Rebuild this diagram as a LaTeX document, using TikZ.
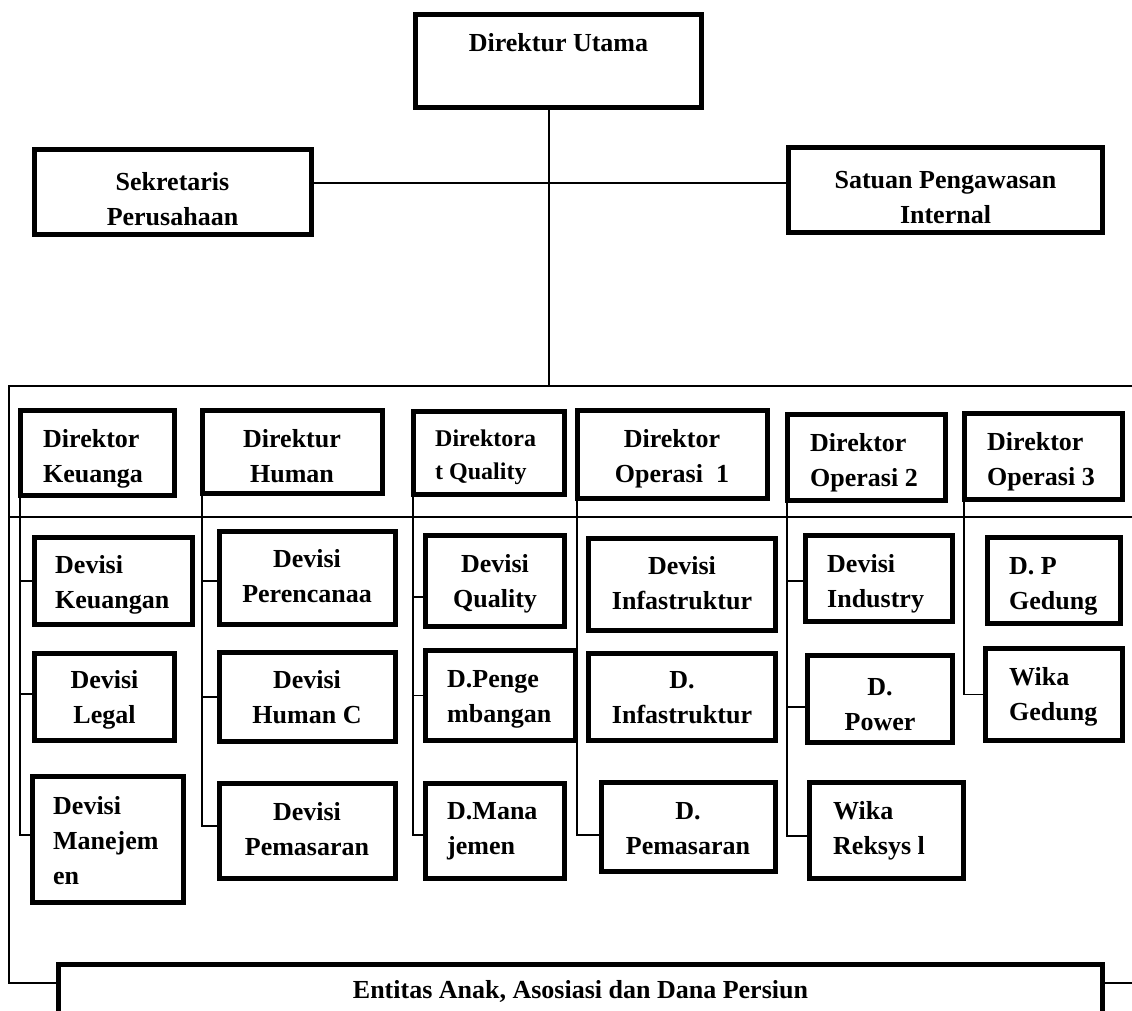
\documentclass[tikz,border=0pt]{standalone}
\usepackage{fontspec}
\setmainfont{Liberation Serif}
\usetikzlibrary{backgrounds}
% stacked lines of a label, first baseline as reference
\newcommand{\txtl}[1]{\begin{tabular}[t]{@{}l@{}}#1\end{tabular}}
\newcommand{\txtc}[1]{\begin{tabular}[t]{@{}c@{}}#1\end{tabular}}
% framed unit given by its outer corners (x1,y1) -- (x2,y2), y pointing down
\newcommand{\orgbox}[5]{%
  \node[box, minimum width={#4-#2-5}, minimum height={#5-#3-5}] (#1) at ({(#2+#4)/2},{(#3+#5)/2}) {};}
\begin{document}
\begin{tikzpicture}[x=1pt,y=-1pt,
  box/.style={draw=black, line width=5pt, fill=white, inner sep=0pt},
  link/.style={draw=black, line width=1.4pt},
  lbl/.style={inner sep=0pt, font=\bfseries\fontsize{26}{35}\selectfont},
  lblL/.style={lbl, anchor=base west},
  lblC/.style={lbl, anchor=base},
]
\useasboundingbox (0,0) rectangle (1132,1010);
\clip (0,0) rectangle (1132,1010);

% ---- top management
\orgbox{dutama}{413}{12}{704}{110}
\orgbox{sekr}{32}{147}{314}{237}
\orgbox{spi}{786}{145}{1105}{235}

% ---- directors
\orgbox{dkeu}{18}{408}{177}{498}
\orgbox{dhum}{200}{408}{385}{496}
\orgbox{dqual}{411}{409}{567}{497}
\orgbox{dops1}{575}{408}{770}{501}
\orgbox{dops2}{785}{412}{948}{503}
\orgbox{dops3}{962}{411}{1125}{502}

% ---- divisions
\orgbox{dvkeu}{32}{535}{195}{627}
\orgbox{dvleg}{32}{651}{177}{743}
\orgbox{dvman}{30}{774}{186}{905}
\orgbox{dvren}{217}{529}{398}{627}
\orgbox{dvhc}{217}{650}{398}{744}
\orgbox{dvpem}{217}{781}{398}{881}
\orgbox{dvqual}{423}{533}{567}{629}
\orgbox{dpeng}{423}{648}{578}{743}
\orgbox{dmana}{423}{781}{567}{881}
\orgbox{dvinf}{586}{536}{778}{633}
\orgbox{dinf}{586}{651}{778}{743}
\orgbox{dpem}{599}{780}{778}{874}
\orgbox{dvind}{803}{533}{955}{624}
\orgbox{dpow}{805}{653}{955}{745}
\orgbox{dreks}{807}{780}{966}{881}
\orgbox{dpged}{985}{535}{1123}{626}
\orgbox{dwged}{983}{646}{1125}{743}

% ---- subsidiaries
\orgbox{ent}{56}{962}{1105}{1050}

% ---- labels
\node[lblC] (t-dutama) at (558.5,51) {Direktur Utama};
\node[lblC] (t-sekr) at (172.5,190) {\txtc{Sekretaris\\Perusahaan}};
\node[lblC] (t-spi) at (945.5,188) {\txtc{Satuan Pengawasan\\Internal}};

\node[lblL] (t-dkeu) at (43,447) {\txtl{Direktor\\Keuanga}};
\node[lblC] (t-dhum) at (292,447) {\txtc{Direktur\\Human}};
\node[lblL, font=\bfseries\fontsize{24}{33}\selectfont] (t-dqual) at (435,446) {\txtl{Direktora\\t Quality}};
\node[lblC] (t-dops1) at (672,447) {\txtc{Direktor\\Operasi\ \ 1}};
\node[lblL] (t-dops2) at (810,451) {\txtl{Direktor\\Operasi 2}};
\node[lblL] (t-dops3) at (987,450) {\txtl{Direktor\\Operasi 3}};

\node[lblL] (t-dvkeu) at (55,573) {\txtl{Devisi\\Keuangan}};
\node[lblC] (t-dvleg) at (104.5,688) {\txtc{Devisi\\Legal}};
\node[lblL] (t-dvman) at (53,814) {\txtl{Devisi\\Manejem\\en}};
\node[lblC] (t-dvren) at (307,567) {\txtc{Devisi\\Perencanaa}};
\node[lblC] (t-dvhc) at (307,688) {\txtc{Devisi\\Human C}};
\node[lblC] (t-dvpem) at (307,820) {\txtc{Devisi\\Pemasaran}};
\node[lblC] (t-dvqual) at (495,572) {\txtc{Devisi\\Quality}};
\node[lblL] (t-dpeng) at (447,687) {\txtl{D.Penge\\mbangan}};
\node[lblL] (t-dmana) at (447,819) {\txtl{D.Mana\\jemen}};
\node[lblC] (t-dvinf) at (682,574) {\txtc{Devisi\\Infastruktur}};
\node[lblC] (t-dinf) at (682,688) {\txtc{D.\\Infastruktur}};
\node[lblC] (t-dpem) at (688,819) {\txtc{D.\\Pemasaran}};
\node[lblL] (t-dvind) at (827,572) {\txtl{Devisi\\Industry}};
\node[lblC] (t-dpow) at (880,695) {\txtc{D.\\Power}};
\node[lblL] (t-dreks) at (833,819) {\txtl{Wika\\Reksys l}};
\node[lblL] (t-dpged) at (1009,574) {\txtl{D. P\\Gedung}};
\node[lblL] (t-dwged) at (1009,685) {\txtl{Wika\\Gedung}};

\node[lblC] (t-ent) at (580.5,998) {Entitas Anak, Asosiasi dan Dana Persiun};

% ---- connectors, behind the boxes
\begin{scope}[on background layer]
  \fill[white] (0,0) rectangle (1132,1010);
  \coordinate (busA-l) at (9,386);
  \coordinate (busA-r) at (1132,386);
  \coordinate (busB-l) at (9,517);
  \coordinate (busB-r) at (1132,517);
  \coordinate (busC-l) at (9,983);
  \coordinate (busC-r) at (1132,983);

  \draw[link] ([xshift=-9.5pt]dutama.south) -- ([xshift=-9.5pt]dutama.south |- busA-l);
  \draw[link] ([yshift=9pt]sekr.east) -- ([yshift=9pt]sekr.east -| spi.west);

  \draw[link] (busA-r) -- (busA-l) -- (busC-l) -- (busC-r);
  \draw[link] (busB-l) -- (busB-r);

  % Keuangan column
  \draw[link] ([xshift=2pt]dkeu.south west) |- (dvkeu.west);
  \draw[link] ([xshift=2pt]dkeu.south west) |- ([yshift=3pt]dvleg.west);
  \draw[link] ([xshift=2pt]dkeu.south west) |- ([yshift=4.5pt]dvman.west);
  % Human column
  \draw[link] ([xshift=2pt]dhum.south west) |- ([yshift=-3pt]dvren.west);
  \draw[link] ([xshift=2pt]dhum.south west) |- (dvhc.west);
  \draw[link] ([xshift=2pt]dhum.south west) |- ([yshift=5pt]dvpem.west);
  % Quality column
  \draw[link] ([xshift=2pt]dqual.south west) |- ([yshift=-16pt]dvqual.west);
  \draw[link] ([xshift=2pt]dqual.south west) |- (dpeng.west);
  \draw[link] ([xshift=2pt]dqual.south west) |- ([yshift=-4pt]dmana.west);
  % Operasi 1 column
  \draw[link] ([xshift=2pt]dops1.south west) |- ([yshift=-8pt]dpem.west);
  % Operasi 2 column
  \draw[link] ([xshift=2pt]dops2.south west) |- ([yshift=-2.5pt]dvind.west);
  \draw[link] ([xshift=2pt]dops2.south west) |- ([yshift=-8pt]dpow.west);
  \draw[link] ([xshift=2pt]dops2.south west) |- ([yshift=-5.5pt]dreks.west);
  % Operasi 3 column
  \draw[link] ([xshift=2pt]dops3.south west) |- (dwged.west);
\end{scope}
\end{tikzpicture}
\end{document}
